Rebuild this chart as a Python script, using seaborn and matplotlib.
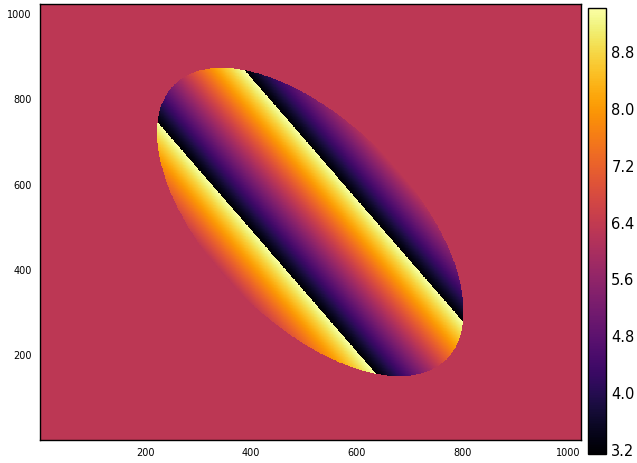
import numpy as np
import matplotlib
matplotlib.use("Agg")
import matplotlib.pyplot as plt
import seaborn as sns

sns.set_theme(style="white")
plt.rcParams['font.family'] = ['DejaVu Sans']

# ============================================================
#  DATA — phase map parameters
# ============================================================

grid_size      = 1024                 # image is 1024 x 1024 pixels
ellipse_center = [512, 512]           # (x, y)
ellipse_axes   = [416, 206]           # semi-major, semi-minor
ellipse_angle  = -55.5                # degrees, major axis direction
fringe_angle   = 35.0                 # degrees, direction the phase grows
fringe_period  = 205                  # pixels per 2*pi
background     = 2 * np.pi            # phase outside the ellipse
phase_range    = [np.pi, 3 * np.pi]   # wrapped interval

x_ticks  = [200, 400, 600, 800, 1000]
y_ticks  = [200, 400, 600, 800, 1000]
cb_ticks = [3.2, 4.0, 4.8, 5.6, 6.4, 7.2, 8.0, 8.8]

# ============================================================
#  BUILD — wrapped phase inside the ellipse
# ============================================================

def build_phase():
    yy, xx = np.mgrid[0:grid_size, 0:grid_size] + 0.5
    dx = xx - ellipse_center[0]
    dy = yy - ellipse_center[1]

    t = np.deg2rad(ellipse_angle)
    u = dx * np.cos(t) + dy * np.sin(t)
    v = -dx * np.sin(t) + dy * np.cos(t)
    inside = (u / ellipse_axes[0]) ** 2 + (v / ellipse_axes[1]) ** 2 <= 1

    f = np.deg2rad(fringe_angle)
    d = dx * np.cos(f) + dy * np.sin(f)
    raw = background + 2 * np.pi * d / fringe_period
    lo, hi = phase_range
    wrapped = lo + np.mod(raw - lo, hi - lo)

    return np.where(inside, wrapped, background)

# ============================================================
#  PLOT
# ============================================================

def plot_phase(phase):
    fig = plt.figure(figsize=(6.37, 4.63), dpi=100)
    ax  = fig.add_axes([40 / 637, 23 / 463, 540.7 / 637, 436 / 463])
    cax = fig.add_axes([588 / 637, 9 / 463, 17.7 / 637, 446 / 463])

    sns.heatmap(phase, ax=ax, cbar_ax=cax, cmap="inferno",
                vmin=phase_range[0], vmax=phase_range[1],
                xticklabels=False, yticklabels=False, rasterized=True)

    ax.set_xlim(0, grid_size)
    ax.set_ylim(0, grid_size)
    ax.set_xticks(x_ticks)
    ax.set_yticks(y_ticks)
    ax.set_xticklabels([str(t) for t in x_ticks])
    ax.set_yticklabels([str(t) for t in y_ticks])
    ax.tick_params(length=0, labelsize=7, pad=6, colors="black")
    for s in ax.spines.values():
        s.set_visible(True)
        s.set_color("black")
        s.set_linewidth(1.0)

    cb = ax.collections[0].colorbar
    cb.set_ticks(cb_ticks)
    cb.set_ticklabels([f"{t:.1f}" for t in cb_ticks])
    cax.tick_params(direction="in", length=4, width=0.8, color="#333333",
                    labelsize=10.5, pad=4, labelcolor="black", right=True)
    cb.outline.set_visible(True)
    cb.outline.set_edgecolor("black")
    cb.outline.set_linewidth(1.0)

    fig.savefig("out.png", dpi=100)

def main():
    phase = build_phase()
    plot_phase(phase)

main()
